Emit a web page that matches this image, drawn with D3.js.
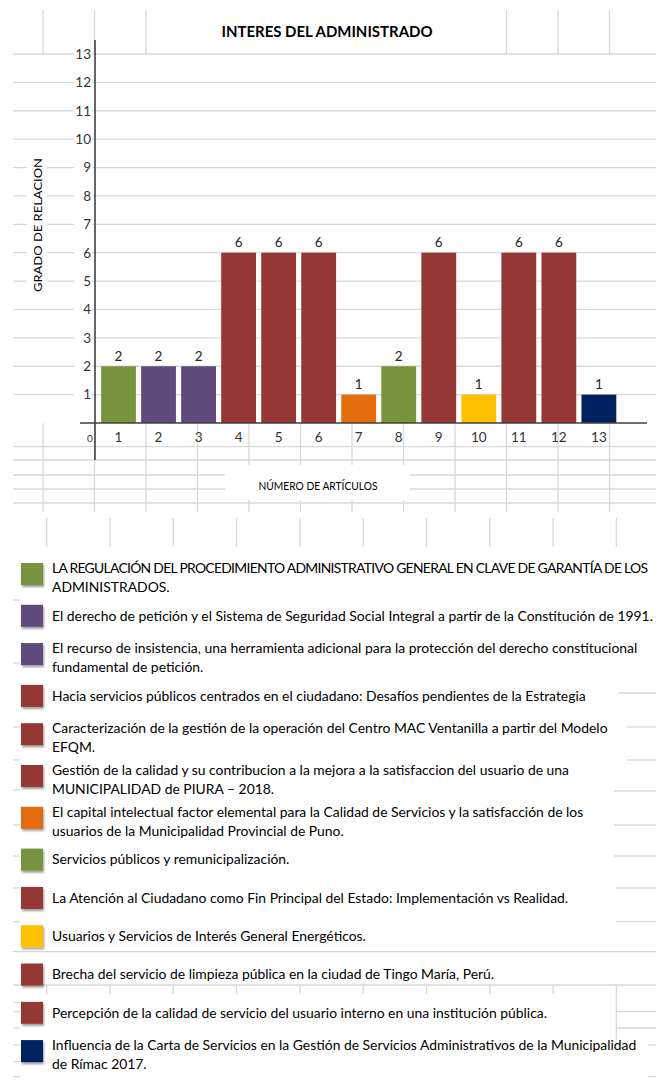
<!DOCTYPE html>
<html>
<head>
<meta charset="utf-8">
<script src="https://cdn.jsdelivr.net/npm/d3@7"></script>
<style>
  html, body { margin: 0; padding: 0; background: #fff; }
  svg { display: block; }
</style>
</head>
<body>
<script>
// ---------------- DATA ----------------
const articles = [1, 2, 3, 4, 5, 6, 7, 8, 9, 10, 11, 12, 13];
const grado = [2, 2, 2, 6, 6, 6, 1, 2, 6, 1, 6, 6, 1];
const yTicks = [1, 2, 3, 4, 5, 6, 7, 8, 9, 10, 11, 12, 13];
const title = "INTERES DEL ADMINISTRADO";
const yTitle = "GRADO DE RELACION";
const xTitle = "NÚMERO  DE ARTÍCULOS";
const legendLines = [
  ["LA REGULACIÓN DEL PROCEDIMIENTO ADMINISTRATIVO  GENERAL EN CLAVE DE GARANTÍA DE LOS", "ADMINISTRADOS."],
  ["El derecho de petición y el Sistema de Seguridad Social Integral a partir de la Constitución de 1991."],
  ["El recurso de insistencia, una herramienta adicional para la protección del derecho constitucional", "fundamental de petición."],
  ["Hacia servicios públicos centrados en el ciudadano: Desafíos pendientes de la Estrategia"],
  ["Caracterización de la gestión de la operación del Centro MAC Ventanilla a partir del Modelo", "EFQM."],
  ["Gestión de la calidad y su contribucion a la mejora a la satisfaccion del usuario de una", "MUNICIPALIDAD  de PIURA – 2018."],
  ["El capital intelectual factor elemental para la Calidad de Servicios y la satisfacción de los", "usuarios de la Municipalidad Provincial de Puno."],
  ["Servicios públicos y remunicipalización."],
  ["La Atención al Ciudadano como Fin Principal del Estado: Implementación vs Realidad."],
  ["Usuarios y Servicios de Interés General Energéticos."],
  ["Brecha del servicio de limpieza pública en la ciudad de Tingo María, Perú."],
  ["Percepción de la calidad de servicio del usuario interno en una institución pública."],
  ["Influencia de la Carta de Servicios en la Gestión de Servicios Administrativos de la Municipalidad", "de Rímac 2017."]
];

// ---------------- STYLE ----------------
const GREEN = "#77933c", PURPLE = "#604a7b", RED = "#953735",
      ORANGE = "#e46c0a", YELLOW = "#ffc000", NAVY = "#002060";
const barColors = [GREEN, PURPLE, PURPLE, RED, RED, RED, ORANGE, GREEN, RED, YELLOW, RED, RED, NAVY];
const FONT = "Lato, 'Liberation Sans', sans-serif";
const GRID = "#d9d9d9";
const TXT = "#262626";

const W = 659, H = 1081;
const svg = d3.select("body").append("svg").attr("width", W).attr("height", H)
  .style("font-family", FONT);

svg.append("rect").attr("width", W).attr("height", H).attr("fill", "#fff");

// ---------------- SCALES ----------------
const y = d3.scaleLinear().domain([0, 13]).range([423, 54]);
const x = d3.scaleBand().domain(articles).range([98.7, 618.7]).paddingInner(0.13).paddingOuter(0.06);

// ---------------- BACKGROUND SPREADSHEET GRID ----------------
const g0 = svg.append("g").attr("stroke", GRID).attr("stroke-width", 1.3).attr("fill", "none");
const colA = d3.range(12).map(i => 43 + 51.5 * i);
const colB = d3.range(10).map(i => 46.7 + 63.3 * i);
const hl = (y0, x1, x2) => g0.append("line").attr("x1", x1).attr("x2", x2).attr("y1", y0).attr("y2", y0);
const vl = (x0, y1, y2) => g0.append("line").attr("x1", x0).attr("x2", x0).attr("y1", y1).attr("y2", y2);

yTicks.forEach(t => hl(y(t), 13, 656));
[0, 1, 2, 9, 10, 11].forEach(i => vl(colA[i], 10, y(13)));
[446.7, 460, 475, 489, 503].forEach(v => hl(v, 13, 656));
colA.forEach(c => vl(c, y(0), 512));
colB.forEach(c => vl(c, 518, 547));
[600, 663, 727, 760, 790, 825, 856, 888, 921.7, 1002.7, 1011.7, 1028, 1045, 1061.7, 1076.7].forEach(v => hl(v, 13, 20));
[[693, 619], [727, 627], [760, 627], [791, 614], [825, 614], [856, 614], [888, 616], [921.7, 616],
 [1011.7, 616], [1028, 616], [1045, 648], [1076.7, 648]].forEach(d => hl(d[0], d[1], 656));
hl(951.7, 13, 656);
hl(985, 13, 656);
colB.slice(0, 9).forEach(c => vl(c, 985, 994));
vl(colB[9], 985, 1040);

// white boxes (title / axis label cells)
svg.append("rect").attr("x", 160).attr("y", 12).attr("width", 340).attr("height", 38).attr("fill", "#fff");
svg.append("rect").attr("x", 225).attr("y", 465).attr("width", 185).attr("height", 35).attr("fill", "#fff");
svg.append("rect").attr("x", 27).attr("y", 152).attr("width", 20).attr("height", 146).attr("fill", "#fff");

// ---------------- TITLE ----------------
svg.append("text").attr("x", 327).attr("y", 37).attr("text-anchor", "middle")
  .attr("font-size", 16).attr("font-weight", 700).attr("fill", "#000")
  .attr("textLength", 211).attr("lengthAdjust", "spacingAndGlyphs")
  .text(title);

// ---------------- BARS ----------------
const gb = svg.append("g");
gb.selectAll("rect").data(articles).join("rect")
  .attr("x", d => x(d))
  .attr("y", (d, i) => y(grado[i]))
  .attr("width", x.bandwidth())
  .attr("height", (d, i) => y(0) - y(grado[i]))
  .attr("fill", (d, i) => barColors[i]);

gb.selectAll("text").data(articles).join("text")
  .attr("x", d => x(d) + x.bandwidth() / 2)
  .attr("y", (d, i) => y(grado[i]) - 5.5)
  .attr("text-anchor", "middle").attr("font-size", 13.5).attr("fill", TXT)
  .text((d, i) => grado[i]);

// ---------------- AXES ----------------
const yAxis = svg.append("g").attr("transform", "translate(95,0)")
  .call(d3.axisLeft(y).tickValues(yTicks).tickSize(0).tickPadding(4));
yAxis.select(".domain").remove();
yAxis.selectAll("text").attr("font-size", 13.5).attr("fill", "#333").attr("font-family", FONT);
yAxis.selectAll(".tick").insert("rect", "text").attr("x", -21).attr("y", -7).attr("width", 18).attr("height", 14).attr("fill", "#fff");

const xAxis = svg.append("g").attr("transform", `translate(0,${y(0)})`)
  .call(d3.axisBottom(x).tickSize(0).tickPadding(9));
xAxis.select(".domain").remove();
xAxis.selectAll("text").attr("font-size", 13.5).attr("fill", "#333").attr("font-family", FONT);

svg.append("line").attr("x1", 80).attr("x2", 647).attr("y1", y(0)).attr("y2", y(0))
  .attr("stroke", "#404040").attr("stroke-width", 1.6);
svg.append("line").attr("x1", 95).attr("x2", 95).attr("y1", 40).attr("y2", 460)
  .attr("stroke", "#404040").attr("stroke-width", 1.6);
svg.append("text").attr("x", 90).attr("y", 442).attr("text-anchor", "middle")
  .attr("font-size", 10).attr("fill", "#333").text("0");

svg.append("text").attr("transform", "translate(42,225) rotate(-90)").attr("text-anchor", "middle")
  .attr("font-size", 11.5).attr("fill", "#000").attr("textLength", 134).attr("lengthAdjust", "spacingAndGlyphs")
  .text(yTitle);
svg.append("text").attr("x", 318).attr("y", 490).attr("text-anchor", "middle")
  .attr("font-size", 11).attr("fill", "#000").attr("textLength", 119).attr("lengthAdjust", "spacingAndGlyphs")
  .text(xTitle);

// ---------------- LEGEND ----------------
const defs = svg.append("defs");
const f = defs.append("filter").attr("id", "sh").attr("x", "-30%").attr("y", "-30%").attr("width", "170%").attr("height", "170%");
f.append("feDropShadow").attr("dx", 1).attr("dy", 2).attr("stdDeviation", 1).attr("flood-color", "#000").attr("flood-opacity", 0.4);

const ROW2 = 41.8, ROW1 = 38.3, LEG_TOP = 563, LINE_H = 19;
let acc = LEG_TOP;
const rowTop = legendLines.map(l => { const t = acc; acc += l.length > 1 ? ROW2 : ROW1; return t; });

const gl = svg.append("g");
const rows = gl.selectAll("g").data(legendLines).join("g")
  .attr("transform", (d, i) => `translate(0,${rowTop[i]})`);
rows.append("rect").attr("x", 21).attr("y", 0).attr("width", 22).attr("height", 22)
  .attr("fill", (d, i) => barColors[i]).attr("filter", "url(#sh)");
rows.each(function (lines, i) {
  const g = d3.select(this);
  const first = lines.length > 1 ? 5 : 11;
  lines.forEach((ln, j) => {
    const t = g.append("text").attr("x", 52).attr("y", first + j * LINE_H).attr("dy", "0.35em")
      .attr("font-size", 13.9).attr("fill", "#000").text(ln);
    if (i === 0 && j === 0) t.attr("textLength", 596).attr("lengthAdjust", "spacing");
  });
});
</script>
</body>
</html>
